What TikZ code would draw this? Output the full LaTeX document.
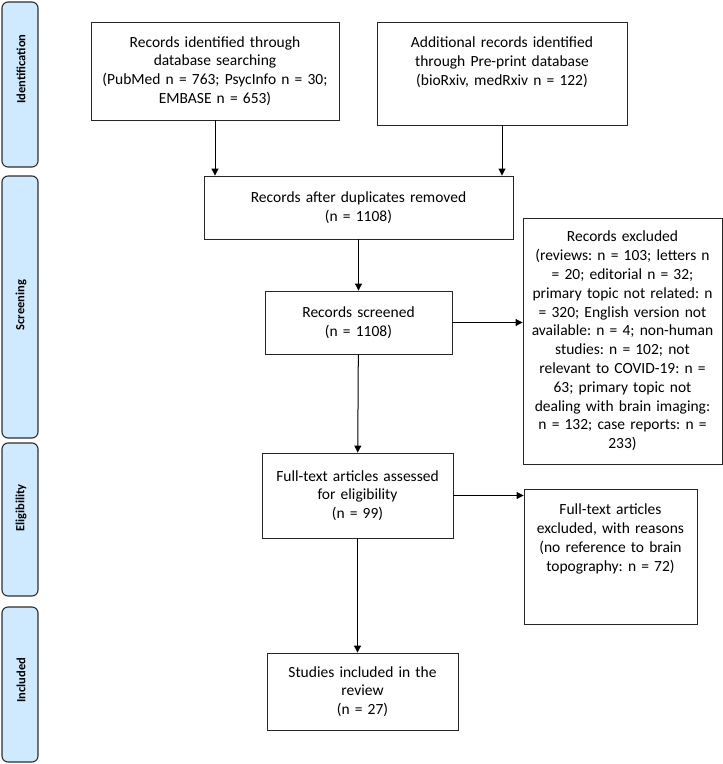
\documentclass[tikz,border=0pt]{standalone}
\usepackage{fontspec}
\setmainfont{Carlito}
\usepackage{tikz}
\usetikzlibrary{arrows.meta}
\definecolor{barblue}{RGB}{207,234,255}
\definecolor{barline}{RGB}{45,45,45}
\frenchspacing
\newcommand{\toptext}[2]{\parbox[t][#1][t]{\linewidth}{\centering #2}}
\tikzstyle{stagebar} = [draw=barline, fill=barblue, line width=1.1pt, rounded corners=6pt, minimum width=36pt, inner sep=0pt]
\tikzstyle{stagelabel} = [rotate=90, font=\fontsize{12.5}{15}\selectfont\bfseries]
\tikzstyle{flowbox} = [draw=black!85, line width=0.9pt, rectangle, align=center, inner xsep=4pt, inner ysep=4pt, font=\fontsize{15.5}{18.8}\selectfont]
\tikzstyle{flowarrow} = [line width=1pt, -{Triangle[length=7pt,width=7pt]}]

\begin{document}
\begin{tikzpicture}[x=1pt, y=-1pt]
		\useasboundingbox (0,0) rectangle (723,764);
		% stage bars on the left
		\node[stagebar, minimum height=165pt](ident) at (20,84.5){};
		\node[stagebar, minimum height=262pt](screen) at (20,307){};
		\node[stagebar, minimum height=153pt](elig) at (20,519.5){};
		\node[stagebar, minimum height=155pt](incl) at (20,684.5){};
		\node[stagelabel](identlbl) at (21,69) {Identification};
		\node[stagelabel](screenlbl) at (21,305) {Screening};
		\node[stagelabel](eliglbl) at (21,508) {Eligibility};
		\node[stagelabel](incllbl) at (21,680) {Included};

		% flow boxes
		\node[flowbox, text width=240pt, minimum height=98pt](dbsearch) at (215,71){
			Records identified through\\ database searching\\ (PubMed n = 763; PsycInfo n = 30;\\ EMBASE n = 653)};
		\node[flowbox, text width=242pt, inner ysep=15pt](preprint) at (502,73.5){
			\toptext{73pt}{Additional records identified\\ through Pre-print database\\ (bioRxiv, medRxiv n = 122)}};
		\node[flowbox, text width=301pt, minimum height=63pt](dupl) at (358.5,207.5){
			Records after duplicates removed\\ (n = 1108)};
		\node[flowbox, text width=179pt, minimum height=63pt](screened) at (358.5,322.5){
			Records screened\\ (n = 1108)};
		\node[flowbox, text width=191pt, minimum height=246pt](excl) at (622.5,341){
			Records excluded\\ (reviews: n = 103; letters n\\ = 20; editorial n = 32;\\ primary topic not related: n\\ = 320; English version not\\ available: n = 4; non-human\\ studies: n = 102; not\\ relevant to COVID-19: n =\\ 63; primary topic not\\ dealing with brain imaging:\\ n = 132; case reports: n =\\ 233)};
		\node[flowbox, text width=183pt, minimum height=85pt](fulltext) at (357.5,495.5){
			Full-text articles assessed\\ for eligibility\\ (n = 99)};
		\node[flowbox, text width=165pt, inner ysep=15pt](ftexcl) at (610.5,556.5){
			\toptext{105pt}{Full-text articles\\ excluded, with reasons\\ (no reference to brain\\ topography: n = 72)}};
		\node[flowbox, text width=183pt, minimum height=77pt](included) at (362.5,691.5){
			Studies included in the\\ review\\ (n = 27)};

		% connectors
		\draw[flowarrow] (dbsearch.south) -- (dbsearch.south |- dupl.north);
		\draw[flowarrow] (preprint.south) -- (preprint.south |- dupl.north);
		\draw[flowarrow] (dupl) -- (screened);
		\draw[flowarrow] (screened.east) -- (screened.east -| excl.west);
		\draw[flowarrow] (screened) -- (fulltext);
		\draw[flowarrow] (fulltext.east) -- (fulltext.east -| ftexcl.west);
		\draw[flowarrow] (fulltext.south) -- (fulltext.south |- included.north);
	\end{tikzpicture}
\end{document}
